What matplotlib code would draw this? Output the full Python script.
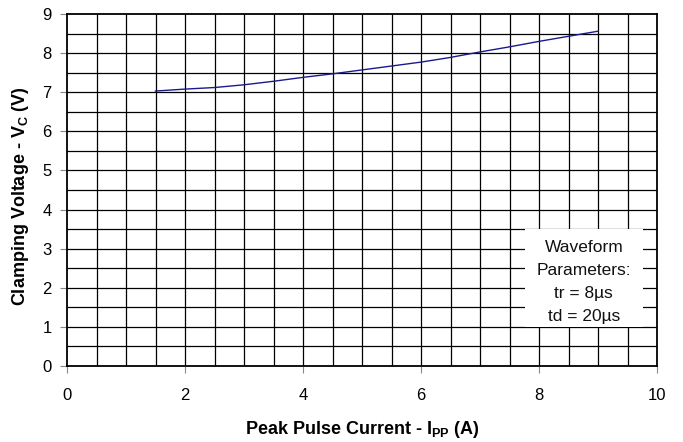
import matplotlib
matplotlib.use("Agg")
import matplotlib.pyplot as plt
from matplotlib.patches import Rectangle
import numpy as np

plt.rcParams['font.family'] = ['Liberation Sans', 'DejaVu Sans']
plt.rcParams['mathtext.fontset'] = 'custom'
plt.rcParams['mathtext.rm'] = 'Liberation Sans'
plt.rcParams['mathtext.bf'] = 'Liberation Sans:bold'

current = [1.5, 2, 2.5, 3, 3.5, 4, 4.5, 5, 5.5, 6, 6.5, 7, 7.5, 8, 8.5, 9]
voltage = [7.03, 7.08, 7.12, 7.19, 7.28, 7.38, 7.47, 7.57, 7.67, 7.77, 7.89, 8.03, 8.16, 8.30, 8.43, 8.56]
x_ticks = [0, 2, 4, 6, 8, 10]
y_ticks = [0, 1, 2, 3, 4, 5, 6, 7, 8, 9]
note_lines = ["Waveform", "Parameters:", "tr = 8\u00b5s", "td = 20\u00b5s"]

W, H = 683, 442
fig = plt.figure(figsize=(W/100, H/100), dpi=100)
ax = fig.add_axes([67/W, (H-366)/H, 590/W, 352/H])
ax.set_xlim(0, 10)
ax.set_ylim(0, 9)

for xv in np.arange(0.5, 10, 0.5):
    ax.axvline(xv, color='black', lw=0.9, zorder=1)
for yv in np.arange(0.5, 9, 0.5):
    ax.axhline(yv, color='black', lw=0.9, zorder=1)

ax.plot(current, voltage, color='#1a1a8c', lw=1.0, zorder=3)

ax.add_patch(Rectangle((7.76, 1.0), 2.0, 2.5, facecolor='white', edgecolor='none', zorder=2))
ys = [3.03, 2.45, 1.85, 1.26]
for t, yy in zip(note_lines, ys):
    ax.text(8.76, yy, t, ha='center', va='center', fontsize=12.5, color='#111111', zorder=4)

ax.set_xticks(x_ticks)
ax.set_yticks(y_ticks)
ax.tick_params(axis='both', direction='out', length=5, color='#888888', labelsize=12)
ax.tick_params(axis='x', pad=11)
ax.tick_params(axis='y', pad=6)
for s in ax.spines.values():
    s.set_linewidth(1.3)
    s.set_color('black')

fig.text(362/W, (H-430)/H, r'Peak Pulse Current - I$_\mathbf{PP}$ (A)', fontsize=13, fontweight='bold',
         ha='center', va='center')
fig.text(21/W, (H-196)/H, r'Clamping Voltage - V$_\mathbf{C}$ (V)', fontsize=13, fontweight='bold',
         ha='center', va='center', rotation=90)

fig.savefig('out.png', dpi=100)
